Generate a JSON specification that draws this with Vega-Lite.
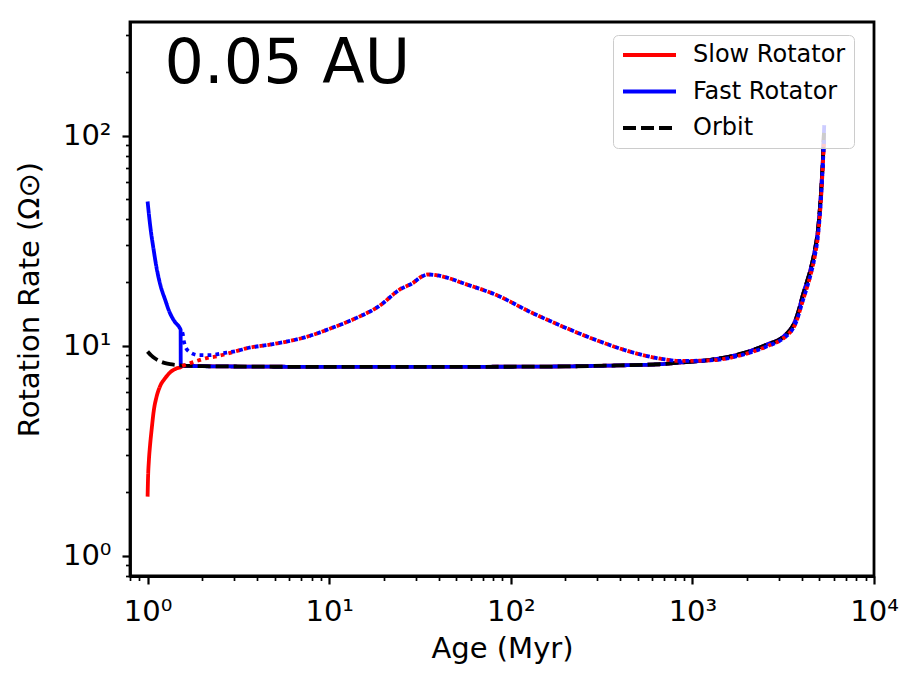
{
  "$schema": "https://vega.github.io/schema/vega-lite/v6.json",
  "width": 744,
  "height": 554,
  "autosize": {"type": "none"},
  "padding": {"left": 130, "top": 22, "right": 44, "bottom": 106},
  "background": "white",
  "config": {
    "view": {"stroke": "black", "strokeWidth": 2.8},
    "font": "DejaVu Sans",
    "axis": {
      "grid": false,
      "domainColor": "black",
      "domainWidth": 2.8,
      "tickColor": "black",
      "labelColor": "black",
      "labelFont": "DejaVu Sans",
      "labelFontSize": 29,
      "titleFont": "DejaVu Sans",
      "titleFontSize": 29,
      "titleFontWeight": "normal",
      "titleColor": "black",
      "labelFlush": false,
      "labelOverlap": false,
      "labelBound": false
    }
  },
  "datasets": {
    "orbit": [
      {"age": 1.0, "rate": 9.36}, {"age": 1.05, "rate": 8.95}, {"age": 1.1, "rate": 8.68},
      {"age": 1.17, "rate": 8.42}, {"age": 1.25, "rate": 8.25}, {"age": 1.33, "rate": 8.15},
      {"age": 1.45, "rate": 8.07}, {"age": 1.55, "rate": 8.03}, {"age": 2, "rate": 7.98},
      {"age": 3, "rate": 7.95}, {"age": 5, "rate": 7.93}, {"age": 10, "rate": 7.92},
      {"age": 30, "rate": 7.92}, {"age": 100, "rate": 7.93}, {"age": 200, "rate": 7.96},
      {"age": 400, "rate": 8.05}, {"age": 660, "rate": 8.15}, {"age": 850, "rate": 8.3},
      {"age": 1250, "rate": 8.55}, {"age": 1900, "rate": 9.2}, {"age": 2560, "rate": 10.1},
      {"age": 3160, "rate": 11.0}, {"age": 3400, "rate": 11.7}, {"age": 3590, "rate": 12.5},
      {"age": 3750, "rate": 13.7}, {"age": 3900, "rate": 15.3}, {"age": 4050, "rate": 17.3},
      {"age": 4250, "rate": 19.8}, {"age": 4494, "rate": 23.4}, {"age": 4727, "rate": 28.6},
      {"age": 4928, "rate": 36.4}, {"age": 5146, "rate": 59.5}, {"age": 5250, "rate": 82.5},
      {"age": 5300, "rate": 103}
    ],
    "slow": [
      {"age": 1.0, "rate": 1.91}, {"age": 1.005, "rate": 2.3}, {"age": 1.017, "rate": 2.86},
      {"age": 1.03, "rate": 3.3}, {"age": 1.052, "rate": 3.97}, {"age": 1.083, "rate": 4.94},
      {"age": 1.12, "rate": 5.7}, {"age": 1.169, "rate": 6.38}, {"age": 1.25, "rate": 7.0},
      {"age": 1.327, "rate": 7.44}, {"age": 1.45, "rate": 7.8}, {"age": 1.525, "rate": 7.9},
      {"age": 1.55, "rate": 8.0},
      {"age": 2, "rate": 7.98}, {"age": 3, "rate": 7.95}, {"age": 5, "rate": 7.93},
      {"age": 10, "rate": 7.92}, {"age": 30, "rate": 7.92}, {"age": 100, "rate": 7.93},
      {"age": 200, "rate": 7.96}, {"age": 400, "rate": 8.05}, {"age": 660, "rate": 8.15},
      {"age": 850, "rate": 8.3}, {"age": 1250, "rate": 8.55}, {"age": 1900, "rate": 9.2},
      {"age": 2560, "rate": 10.1}, {"age": 3160, "rate": 11.0}, {"age": 3400, "rate": 11.7},
      {"age": 3590, "rate": 12.5}, {"age": 3750, "rate": 13.7}, {"age": 3900, "rate": 15.3},
      {"age": 4050, "rate": 17.3}, {"age": 4250, "rate": 19.8}, {"age": 4494, "rate": 23.4},
      {"age": 4727, "rate": 28.6}, {"age": 4928, "rate": 36.4}, {"age": 5146, "rate": 59.5},
      {"age": 5250, "rate": 82.5}, {"age": 5300, "rate": 103}
    ],
    "fast": [
      {"age": 1.0, "rate": 48.5}, {"age": 1.02, "rate": 41.1}, {"age": 1.045, "rate": 34.5},
      {"age": 1.073, "rate": 29.6}, {"age": 1.12, "rate": 23.5}, {"age": 1.169, "rate": 19.8},
      {"age": 1.25, "rate": 16.5}, {"age": 1.327, "rate": 14.3}, {"age": 1.41, "rate": 13.0},
      {"age": 1.506, "rate": 12.1}, {"age": 1.52, "rate": 11.9}, {"age": 1.522, "rate": 8.05},
      {"age": 1.55, "rate": 8.03}, {"age": 2, "rate": 7.98}, {"age": 3, "rate": 7.95},
      {"age": 5, "rate": 7.93}, {"age": 10, "rate": 7.92}, {"age": 30, "rate": 7.92},
      {"age": 100, "rate": 7.93}, {"age": 200, "rate": 7.96}, {"age": 400, "rate": 8.05},
      {"age": 660, "rate": 8.15}, {"age": 850, "rate": 8.3}, {"age": 1250, "rate": 8.55},
      {"age": 1900, "rate": 9.2}, {"age": 2560, "rate": 10.1}, {"age": 3160, "rate": 11.0},
      {"age": 3400, "rate": 11.7}, {"age": 3590, "rate": 12.5}, {"age": 3750, "rate": 13.7},
      {"age": 3900, "rate": 15.3}, {"age": 4050, "rate": 17.3}, {"age": 4250, "rate": 19.8},
      {"age": 4494, "rate": 23.4}, {"age": 4727, "rate": 28.6}, {"age": 4928, "rate": 36.4},
      {"age": 5146, "rate": 59.5}, {"age": 5250, "rate": 82.5}, {"age": 5320, "rate": 112}
    ],
    "slowDot": [
      {"age": 1.55, "rate": 8.0}, {"age": 1.65, "rate": 8.15}, {"age": 1.82, "rate": 8.39},
      {"age": 2.11, "rate": 8.72}, {"age": 2.4, "rate": 8.88}, {"age": 2.78, "rate": 9.18},
      {"age": 3.15, "rate": 9.46}, {"age": 3.5, "rate": 9.7}, {"age": 4.71, "rate": 10.1},
      {"age": 6, "rate": 10.5}, {"age": 7.5, "rate": 11.0}, {"age": 10, "rate": 12.0},
      {"age": 13.5, "rate": 13.3}, {"age": 19.0, "rate": 15.5}, {"age": 24.5, "rate": 18.5},
      {"age": 29, "rate": 19.9}, {"age": 32, "rate": 21.2}, {"age": 35, "rate": 21.8},
      {"age": 45, "rate": 21.0}, {"age": 54.7, "rate": 19.8}, {"age": 83.5, "rate": 17.4},
      {"age": 127, "rate": 14.5}, {"age": 194, "rate": 12.3}, {"age": 297, "rate": 10.6},
      {"age": 453, "rate": 9.36}, {"age": 691, "rate": 8.61}, {"age": 853, "rate": 8.45},
      {"age": 1250, "rate": 8.5}, {"age": 1900, "rate": 9.05}, {"age": 2560, "rate": 9.9},
      {"age": 3160, "rate": 10.8}, {"age": 3400, "rate": 11.4}, {"age": 3590, "rate": 12.1},
      {"age": 3750, "rate": 13.1}, {"age": 3900, "rate": 14.6}, {"age": 4050, "rate": 16.3},
      {"age": 4250, "rate": 18.6}, {"age": 4494, "rate": 22.0}, {"age": 4727, "rate": 26.8},
      {"age": 4928, "rate": 34}, {"age": 5146, "rate": 55.5}, {"age": 5250, "rate": 78},
      {"age": 5310, "rate": 95}
    ],
    "fastDot": [
      {"age": 1.52, "rate": 12.0}, {"age": 1.56, "rate": 11.4}, {"age": 1.59, "rate": 10.3},
      {"age": 1.69, "rate": 9.36}, {"age": 1.92, "rate": 9.0}, {"age": 2.2, "rate": 9.0},
      {"age": 2.56, "rate": 9.18}, {"age": 3.15, "rate": 9.46}, {"age": 3.5, "rate": 9.7},
      {"age": 4.71, "rate": 10.1}, {"age": 6, "rate": 10.5}, {"age": 7.5, "rate": 11.0},
      {"age": 10, "rate": 12.0}, {"age": 13.5, "rate": 13.3}, {"age": 19.0, "rate": 15.5},
      {"age": 24.5, "rate": 18.5}, {"age": 29, "rate": 19.9}, {"age": 32, "rate": 21.2},
      {"age": 35, "rate": 21.8}, {"age": 45, "rate": 21.0}, {"age": 54.7, "rate": 19.8},
      {"age": 83.5, "rate": 17.4}, {"age": 127, "rate": 14.5}, {"age": 194, "rate": 12.3},
      {"age": 297, "rate": 10.6}, {"age": 453, "rate": 9.36}, {"age": 691, "rate": 8.61},
      {"age": 853, "rate": 8.45}, {"age": 1250, "rate": 8.5}, {"age": 1900, "rate": 9.05},
      {"age": 2560, "rate": 9.9}, {"age": 3160, "rate": 10.8}, {"age": 3400, "rate": 11.4},
      {"age": 3590, "rate": 12.1}, {"age": 3750, "rate": 13.1}, {"age": 3900, "rate": 14.6},
      {"age": 4050, "rate": 16.3}, {"age": 4250, "rate": 18.6}, {"age": 4494, "rate": 22.0},
      {"age": 4727, "rate": 26.8}, {"age": 4928, "rate": 34}, {"age": 5146, "rate": 55.5},
      {"age": 5250, "rate": 78}, {"age": 5310, "rate": 95}
    ],
    "label": [{"age": 1.24, "rate": 178, "text": "0.05 AU"}]
  },
  "encoding": {
    "x": {
      "field": "age",
      "type": "quantitative",
      "scale": {"type": "log", "domain": [0.8, 10000], "nice": false},
      "axis": {
        "title": "Age (Myr)",
        "values": [0.8, 0.9, 1, 2, 3, 4, 5, 6, 7, 8, 9, 10, 20, 30, 40, 50, 60, 70, 80, 90, 100, 200, 300, 400, 500, 600, 700, 800, 900, 1000, 2000, 3000, 4000, 5000, 6000, 7000, 8000, 9000, 10000],
        "labelExpr": "datum.value==1?'10⁰':datum.value==10?'10¹':datum.value==100?'10²':datum.value==1000?'10³':datum.value==10000?'10⁴':''",
        "tickSize": {"condition": {"test": "datum.value==1||datum.value==10||datum.value==100||datum.value==1000||datum.value==10000", "value": 8}, "value": 4.5},
        "tickWidth": {"condition": {"test": "datum.value==1||datum.value==10||datum.value==100||datum.value==1000||datum.value==10000", "value": 2.2}, "value": 1.7},
        "labelPadding": 13,
        "titlePadding": 8
      }
    },
    "y": {
      "field": "rate",
      "type": "quantitative",
      "scale": {"type": "log", "domain": [0.8, 347], "nice": false},
      "axis": {
        "title": "Rotation Rate (Ω⊙)",
        "values": [0.8, 0.9, 1, 2, 3, 4, 5, 6, 7, 8, 9, 10, 20, 30, 40, 50, 60, 70, 80, 90, 100, 200, 300],
        "labelExpr": "datum.value==1?'10⁰':datum.value==10?'10¹':datum.value==100?'10²':''",
        "tickSize": {"condition": {"test": "datum.value==1||datum.value==10||datum.value==100", "value": 8}, "value": 4.5},
        "tickWidth": {"condition": {"test": "datum.value==1||datum.value==10||datum.value==100", "value": 2.2}, "value": 1.7},
        "labelPadding": 11,
        "titlePadding": 18
      }
    }
  },
  "layer": [
    {
      "data": {"name": "slow"},
      "mark": {"type": "line", "strokeWidth": 3.8, "interpolate": "monotone"},
      "encoding": {
        "color": {
          "datum": "Slow Rotator", "type": "nominal",
          "scale": {"domain": ["Slow Rotator", "Fast Rotator", "Orbit"], "range": ["#ff0000", "#0000ff", "#000000"]},
          "legend": {
            "title": null, "orient": "none", "legendX": 483, "legendY": 13,
            "symbolType": "stroke", "symbolSize": 2809, "symbolStrokeWidth": 3.8,
            "clipHeight": 24, "rowPadding": 12.5, "labelFontSize": 24, "labelFont": "DejaVu Sans",
            "labelColor": "black", "labelOffset": 15, "padding": 8,
            "fillColor": "rgba(255,255,255,0.8)", "strokeColor": "#cccccc", "cornerRadius": 5
          }
        },
        "strokeDash": {
          "datum": "Slow Rotator", "type": "nominal",
          "scale": {"domain": ["Slow Rotator", "Fast Rotator", "Orbit"], "range": [[1, 0], [1, 0], [13, 5]]},
          "legend": {"title": null}
        }
      }
    },
    {
      "data": {"name": "fast"},
      "mark": {"type": "line", "strokeWidth": 3.8, "interpolate": "monotone"},
      "encoding": {
        "color": {"datum": "Fast Rotator", "type": "nominal"},
        "strokeDash": {"datum": "Fast Rotator", "type": "nominal"}
      }
    },
    {
      "data": {"name": "orbit"},
      "mark": {"type": "line", "strokeWidth": 3.8, "interpolate": "monotone"},
      "encoding": {
        "color": {"datum": "Orbit", "type": "nominal"},
        "strokeDash": {"datum": "Orbit", "type": "nominal"}
      }
    },
    {
      "data": {"name": "slowDot"},
      "mark": {"type": "line", "strokeWidth": 3.8, "color": "#ff0000", "strokeDash": [3.8, 4.2], "interpolate": "monotone"},
      "encoding": {}
    },
    {
      "data": {"name": "fastDot"},
      "mark": {"type": "line", "strokeWidth": 3.8, "color": "#0000ff", "strokeDash": [3.8, 4.2], "strokeDashOffset": 4, "interpolate": "monotone"},
      "encoding": {}
    },
    {
      "data": {"name": "label"},
      "mark": {"type": "text", "align": "left", "baseline": "alphabetic", "fontSize": 62, "font": "DejaVu Sans", "color": "black"},
      "encoding": {"text": {"field": "text"}}
    }
  ]
}
